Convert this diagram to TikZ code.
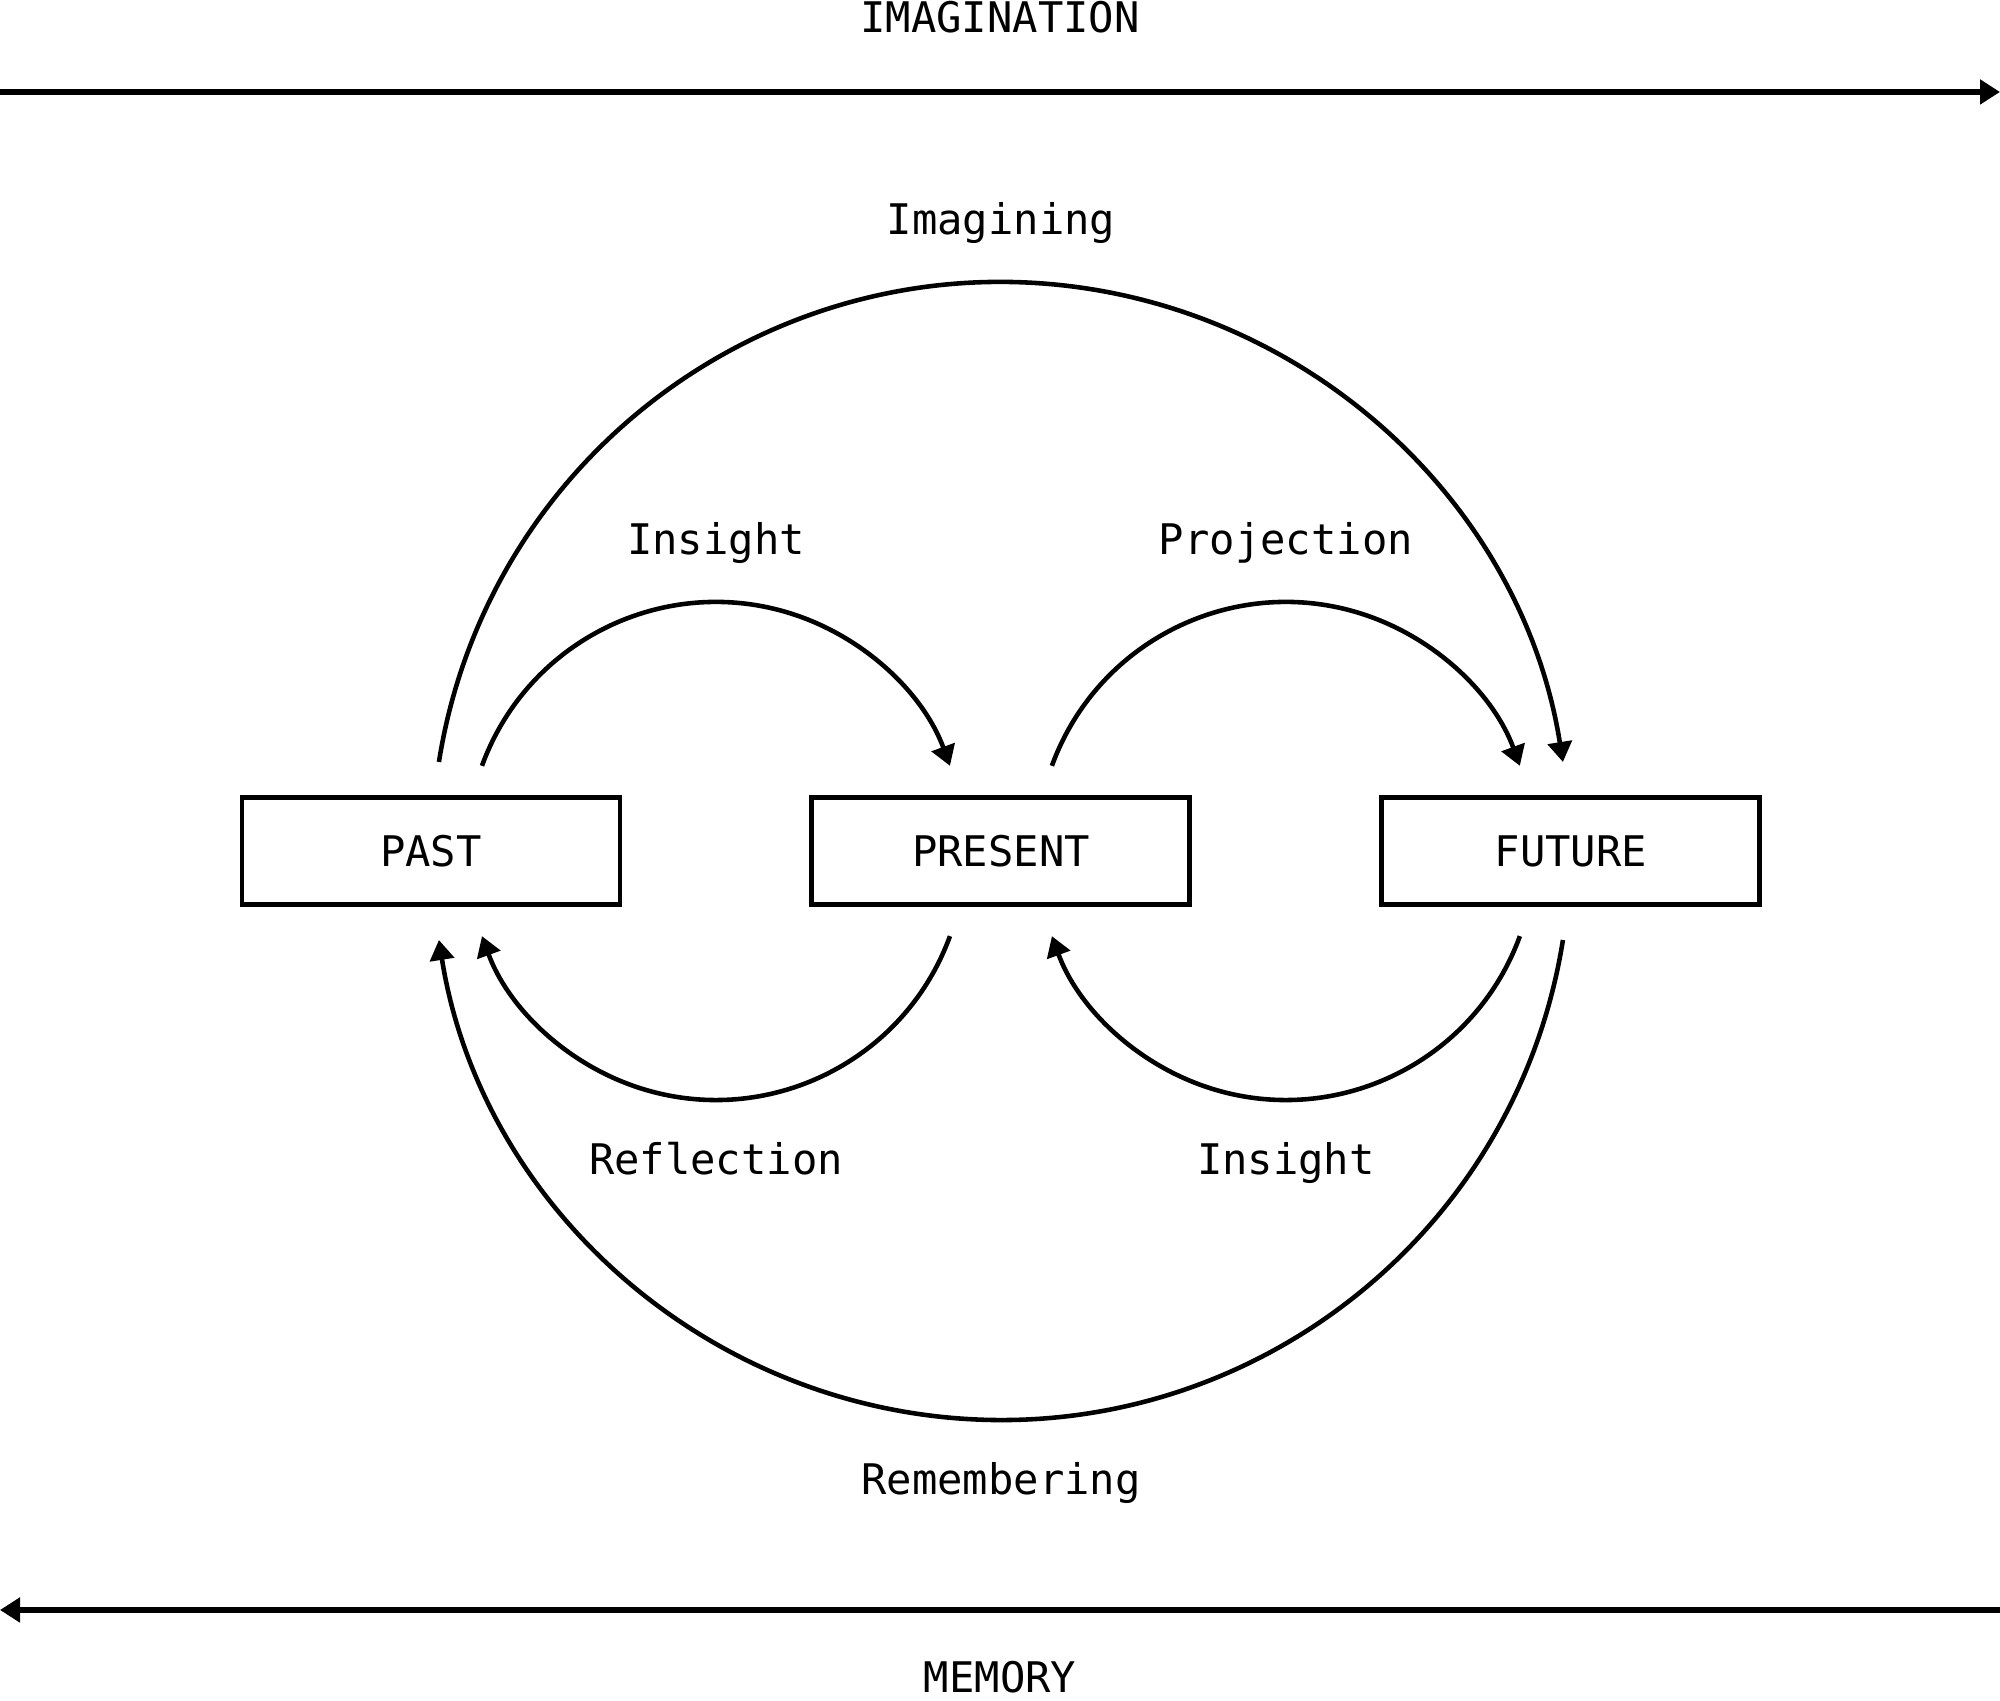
\documentclass[tikz,border=0pt]{standalone}
\usepackage{fontspec}
\setmonofont{DejaVu Sans Mono}
\usetikzlibrary{arrows.meta,positioning,calc}

\begin{document}
\begin{tikzpicture}[
    font=\ttfamily\fontsize{12}{14}\selectfont,
    period/.style={draw, line width=1.4pt, minimum width=3.78cm, minimum height=1.07cm, inner sep=2pt},
    tag/.style={text height=8.75pt, text depth=0pt, inner sep=1pt},
    arrow/.style={-{Triangle[length=2mm, width=2.4mm]}, line width=1.3pt},
    axis/.style={-{Triangle[length=2mm, width=2.4mm]}, line width=1.7pt},
    node distance=1.87cm
]
\useasboundingbox (0,0) rectangle (20,17.01);

% time periods
\node[period] (past) at (4.31,8.5) {PAST};
\node[period, right=of past] (present) {PRESENT};
\node[period, right=of present] (future) {FUTURE};

% axes
\coordinate (imgL) at (0,16.09);
\coordinate (imgR) at (20,16.09);
\coordinate (memL) at (0,0.91);
\coordinate (memR) at (20,0.91);
\draw[axis] (imgL) -- (imgR);
\draw[axis] (memR) -- (memL);
\node[tag] (imagination) at (10,16.84) {IMAGINATION};
\node[tag] (memory) at (10,0.24) {MEMORY};

% small loops
\coordinate (m1) at ($(past)!0.5!(present)$);
\coordinate (m2) at ($(present)!0.5!(future)$);
\draw[arrow] (m1) ++(160:2.49) arc[start angle=160, end angle=20, radius=2.49];
\draw[arrow] (m2) ++(160:2.49) arc[start angle=160, end angle=20, radius=2.49];
\draw[arrow] (m1) ++(-20:2.49) arc[start angle=-20, end angle=-160, radius=2.49];
\draw[arrow] (m2) ++(-20:2.49) arc[start angle=-20, end angle=-160, radius=2.49];

% big loop
\draw[arrow] (present) ++(171:5.69) arc[start angle=171, end angle=9, radius=5.69];
\draw[arrow] (present) ++(-9:5.69) arc[start angle=-9, end angle=-171, radius=5.69];

% labels
\node[tag] (insight1) at ($(m1)+(0,3.12)$) {Insight};
\node[tag] (projection) at ($(m2)+(0,3.12)$) {Projection};
\node[tag] (reflection) at ($(m1)+(0,-3.08)$) {Reflection};
\node[tag] (insight2) at ($(m2)+(0,-3.08)$) {Insight};
\node[tag] (imagining) at ($(present)+(0,6.32)$) {Imagining};
\node[tag] (remembering) at ($(present)+(0,-6.28)$) {Remembering};
\end{tikzpicture}
\end{document}
